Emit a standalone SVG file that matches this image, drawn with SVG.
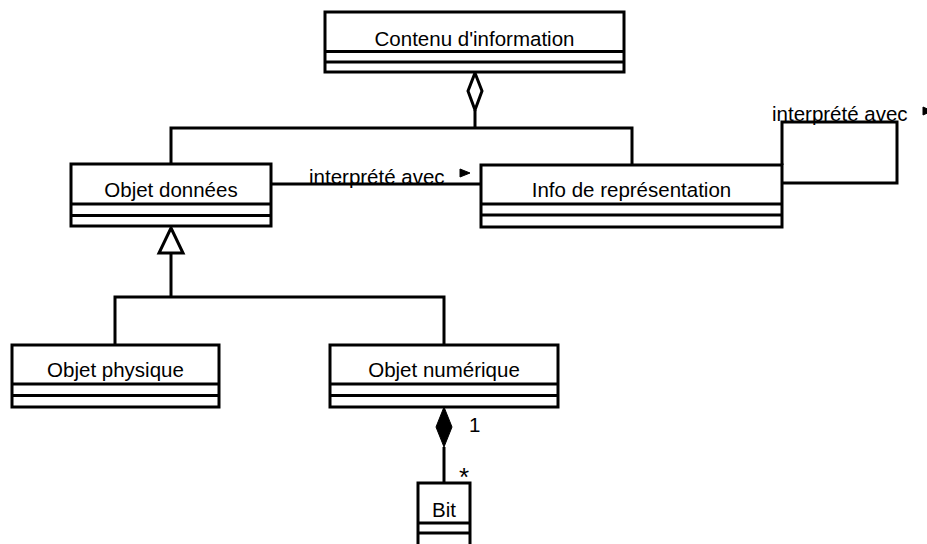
<svg xmlns="http://www.w3.org/2000/svg" width="927" height="544" viewBox="0 0 927 544">
<style>
.box{fill:#fff;stroke:#000;stroke-width:3}
.div{stroke:#000;stroke-width:3}
.lbl{font-family:"Liberation Sans",Arial,sans-serif;font-size:20.5px;fill:#000}
.c{text-anchor:middle}
.ln{fill:none;stroke:#000;stroke-width:3}
.hollow{fill:#fff;stroke:#000;stroke-width:3;stroke-linejoin:miter}
.solid{fill:#000;stroke:#000;stroke-width:1}
</style>
<rect width="927" height="544" fill="#fff"/>
<g id="connectors">
  <path class="ln" d="M171,164 V128 H632 V165"/>
  <path class="ln" d="M475,128 V110"/>
  <polygon class="hollow" points="475,73 482,91 475,110 468,91"/>
  <path class="ln" d="M115,345 V297 H444 V345"/>
  <path class="ln" d="M171,297 V253"/>
  <polygon class="hollow" points="171,228 183,253 159,253"/>
  <path class="ln" d="M271,184 H481"/>
  <text class="lbl" x="309" y="184">interprété avec</text>
  <polygon class="solid" points="460,169 460,177 470,173"/>
  <path class="ln" d="M782,183 H897 V122 H782 V165"/>
  <text class="lbl" x="772" y="121">interprété avec</text>
  <polygon class="solid" points="923,107 923,115 932,111"/>
  <path class="ln" d="M444,447 V483"/>
  <polygon class="solid" points="444,407 452,427 444,447 436,427"/>
  <text class="lbl" x="469" y="432">1</text>
  <text class="lbl" x="459" y="486" style="font-size:26px">*</text>
</g>
<g id="contenu">
  <rect class="box" x="325" y="12" width="299" height="60"/>
  <line class="div" x1="325" y1="51.5" x2="624" y2="51.5"/>
  <line class="div" x1="325" y1="62" x2="624" y2="62"/>
  <text class="lbl c" x="474.5" y="46">Contenu d'information</text>
</g>
<g id="objet-donnees">
  <rect class="box" x="71" y="164" width="200" height="62"/>
  <line class="div" x1="71" y1="204" x2="271" y2="204"/>
  <line class="div" x1="71" y1="215.5" x2="271" y2="215.5"/>
  <text class="lbl c" x="171" y="197">Objet données</text>
</g>
<g id="info-representation">
  <rect class="box" x="481" y="165" width="301" height="62"/>
  <line class="div" x1="481" y1="204" x2="782" y2="204"/>
  <line class="div" x1="481" y1="215" x2="782" y2="215"/>
  <text class="lbl c" x="631.5" y="197">Info de représentation</text>
</g>
<g id="objet-physique">
  <rect class="box" x="12" y="345" width="207" height="62"/>
  <line class="div" x1="12" y1="384" x2="219" y2="384"/>
  <line class="div" x1="12" y1="395.5" x2="219" y2="395.5"/>
  <text class="lbl c" x="115.5" y="377">Objet physique</text>
</g>
<g id="objet-numerique">
  <rect class="box" x="330" y="345" width="228" height="62"/>
  <line class="div" x1="330" y1="384" x2="558" y2="384"/>
  <line class="div" x1="330" y1="395.5" x2="558" y2="395.5"/>
  <text class="lbl c" x="444" y="377">Objet numérique</text>
</g>
<g id="bit">
  <rect class="box" x="418" y="483" width="52" height="66"/>
  <line class="div" x1="418" y1="523" x2="470" y2="523"/>
  <line class="div" x1="418" y1="533" x2="470" y2="533"/>
  <text class="lbl c" x="444" y="517">Bit</text>
</g>
</svg>
